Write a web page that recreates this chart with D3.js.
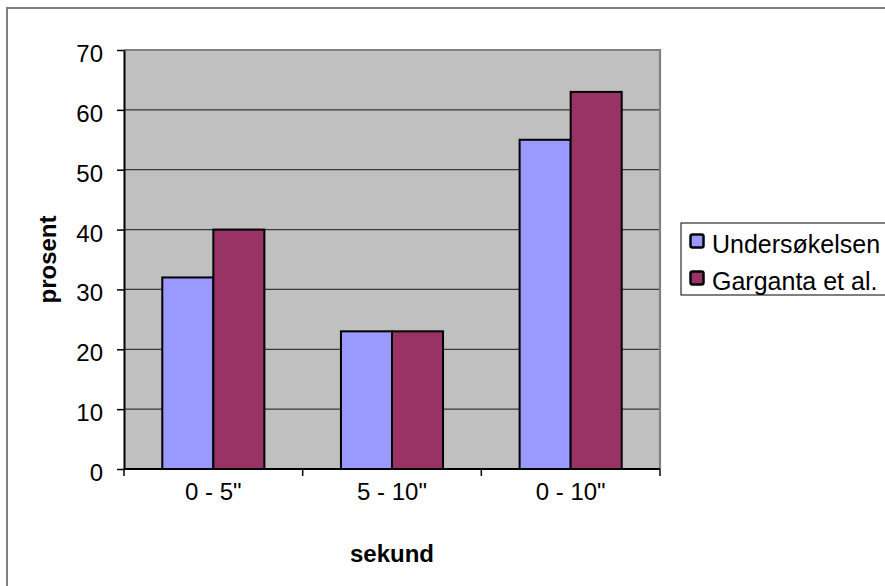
<!DOCTYPE html>
<html>
<head>
<meta charset="utf-8">
<script src="https://cdn.jsdelivr.net/npm/d3@7"></script>
<style>
  html, body { margin: 0; padding: 0; background: #ffffff; overflow: hidden; }
  svg { display: block; font-family: Arial, "Liberation Sans", sans-serif; }
</style>
</head>
<body>
<svg id="chart" width="885" height="586"></svg>
<script>
// Categories (time intervals) and series values in percent
const categories = ['0 - 5"', '5 - 10"', '0 - 10"'];
const seriesNames = ["Undersøkelsen", "Garganta et al."];
const undersokelsen = [32, 23, 55];
const garganta = [40, 23, 63];
const yTicks = [0, 10, 20, 30, 40, 50, 60, 70];
const colors = ["#9999ff", "#993366"];

const seriesValues = [undersokelsen, garganta];
const rows = categories.map((c, i) => ({
  category: c,
  values: seriesNames.map((s, j) => ({ series: s, value: seriesValues[j][i] }))
}));

const svg = d3.select("#chart");
const plot = { left: 124, right: 660, top: 50, bottom: 469 };

// Outer chart frame
svg.append("rect")
  .attr("x", 7).attr("y", 8)
  .attr("width", 900).attr("height", 600)
  .attr("fill", "#ffffff")
  .attr("stroke", "#808080").attr("stroke-width", 2);

const x = d3.scaleBand().domain(categories).range([plot.left, plot.right]).padding(0);
const xInner = d3.scaleBand().domain(seriesNames).range([0, x.bandwidth()])
  .paddingInner(0).paddingOuter(0.75);
const y = d3.scaleLinear().domain([0, 70]).range([plot.bottom, plot.top]);
const color = d3.scaleOrdinal().domain(seriesNames).range(colors);

// Plot background
svg.append("rect")
  .attr("x", plot.left).attr("y", plot.top)
  .attr("width", plot.right - plot.left).attr("height", plot.bottom - plot.top)
  .attr("fill", "#c0c0c0");

// Horizontal gridlines
svg.append("g").selectAll("line")
  .data(yTicks.filter(t => t > 0 && t < 70))
  .join("line")
  .attr("x1", plot.left).attr("x2", plot.right)
  .attr("y1", d => y(d)).attr("y2", d => y(d))
  .attr("stroke", "#3a3a3a").attr("stroke-width", 1.2);

// Top and right borders of the plot area
svg.append("path")
  .attr("d", `M${plot.left},${plot.top}H${plot.right}V${plot.bottom}`)
  .attr("fill", "none").attr("stroke", "#808080").attr("stroke-width", 2.2);

// Bars
svg.append("g").selectAll("g")
  .data(rows)
  .join("g")
  .attr("transform", d => `translate(${x(d.category)},0)`)
  .selectAll("rect")
  .data(d => d.values)
  .join("rect")
  .attr("x", d => xInner(d.series))
  .attr("width", xInner.bandwidth())
  .attr("y", d => y(d.value))
  .attr("height", d => y(0) - y(d.value))
  .attr("fill", d => color(d.series))
  .attr("stroke", "#000000").attr("stroke-width", 2);

// Y axis
const yAxis = svg.append("g")
  .attr("transform", `translate(${plot.left},0)`)
  .call(d3.axisLeft(y).tickValues(yTicks).tickSize(7).tickPadding(14).tickSizeOuter(0));
yAxis.select(".domain").attr("stroke", "#000000").attr("stroke-width", 2);
yAxis.selectAll(".tick line").attr("stroke", "#000000").attr("stroke-width", 1.5);
yAxis.selectAll(".tick text")
  .attr("font-size", 24).attr("fill", "#000000").attr("dy", "0.48em")
  .attr("font-family", "Arial, 'Liberation Sans', sans-serif");

// X axis: labels centred on categories, ticks on category boundaries
const xAxis = svg.append("g")
  .attr("transform", `translate(0,${plot.bottom})`)
  .call(d3.axisBottom(x).tickSize(0).tickPadding(31));
xAxis.select(".domain").remove();
xAxis.selectAll(".tick text")
  .attr("font-size", 24).attr("fill", "#000000").attr("dy", "0")
  .attr("font-family", "Arial, 'Liberation Sans', sans-serif");

const boundaries = categories.map(c => x(c)).concat([x(categories[categories.length - 1]) + x.bandwidth()]);
svg.append("line")
  .attr("x1", plot.left).attr("x2", plot.right)
  .attr("y1", plot.bottom).attr("y2", plot.bottom)
  .attr("stroke", "#000000").attr("stroke-width", 2);
svg.append("g").selectAll("line")
  .data(boundaries)
  .join("line")
  .attr("x1", d => d).attr("x2", d => d)
  .attr("y1", plot.bottom).attr("y2", plot.bottom + 7)
  .attr("stroke", "#000000").attr("stroke-width", 1.5);

// Axis titles
svg.append("text")
  .attr("x", (plot.left + plot.right) / 2).attr("y", 562)
  .attr("text-anchor", "middle")
  .attr("font-size", 24).attr("font-weight", "bold")
  .text("sekund");

svg.append("text")
  .attr("transform", `translate(56,${(plot.top + plot.bottom) / 2}) rotate(-90)`)
  .attr("text-anchor", "middle")
  .attr("font-size", 24).attr("font-weight", "bold")
  .text("prosent");

// Legend
const legend = svg.append("g").attr("transform", "translate(681,223)");
legend.append("rect")
  .attr("x", 0).attr("y", 0).attr("width", 230).attr("height", 72)
  .attr("fill", "#ffffff").attr("stroke", "#000000").attr("stroke-width", 1);
const items = legend.selectAll("g.item")
  .data(seriesNames)
  .join("g")
  .attr("class", "item")
  .attr("transform", (d, i) => `translate(0,${i * 37})`);
items.append("rect")
  .attr("x", 9.5).attr("y", 11.5).attr("width", 13).attr("height", 13)
  .attr("rx", 2)
  .attr("fill", d => color(d))
  .attr("stroke", "#000000").attr("stroke-width", 2.5);
items.append("text")
  .attr("x", 31).attr("y", 30)
  .attr("font-size", 25).attr("fill", "#000000")
  .text(d => d);
</script>
</body>
</html>
